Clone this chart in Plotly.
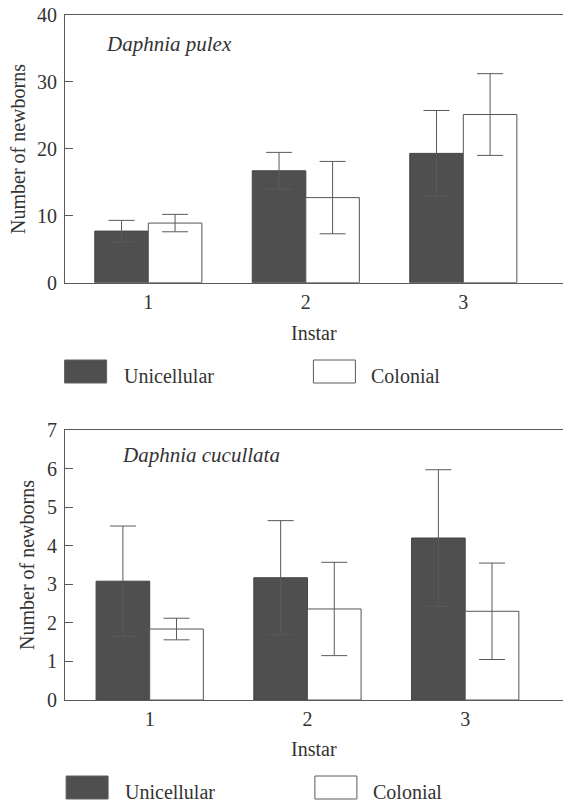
import plotly.graph_objects as go

instars = [1, 2, 3]
tick_labels = ["1", "2", "3"]

pulex_uni = [7.7, 16.7, 19.3]
pulex_uni_err = [1.6, 2.75, 6.4]
pulex_col = [8.9, 12.7, 25.1]
pulex_col_err = [1.3, 5.4, 6.1]

cuc_uni = [3.08, 3.17, 4.2]
cuc_uni_err = [1.43, 1.48, 1.77]
cuc_col = [1.84, 2.36, 2.30]
cuc_col_err = [0.28, 1.21, 1.25]

DARK = "#4f4f4f"
LINE = "#5a5a5a"
TXT = "#333333"
FONT = "Liberation Serif"

W, H = 563, 803

def px(x):
    return x / W

def py(y):
    return 1 - y / H

fig = go.Figure()

def add_pair(uni, uerr, col, cerr, xa, ya):
    fig.add_trace(go.Bar(
        x=instars, y=uni, name="Unicellular", xaxis=xa, yaxis=ya,
        marker=dict(color=DARK, line=dict(color="#444444", width=1)),
        error_y=dict(type="data", array=uerr, visible=True, color=LINE, thickness=1, width=13),
        showlegend=False,
    ))
    fig.add_trace(go.Bar(
        x=instars, y=col, name="Colonial", xaxis=xa, yaxis=ya,
        marker=dict(color="white", line=dict(color="#555555", width=1)),
        error_y=dict(type="data", array=cerr, visible=True, color=LINE, thickness=1, width=13),
        showlegend=False,
    ))

add_pair(pulex_uni, pulex_uni_err, pulex_col, pulex_col_err, "x", "y")
add_pair(cuc_uni, cuc_uni_err, cuc_col, cuc_col_err, "x2", "y2")

tfont = dict(family=FONT, size=20, color=TXT)

xcommon = dict(
    domain=[px(65), 1.0], tickvals=instars, ticktext=tick_labels,
    showline=True, linecolor=LINE, linewidth=1, mirror=True,
    ticks="outside", ticklen=1, tickcolor="rgba(0,0,0,0)",
    showgrid=False, zeroline=False, automargin=False, tickfont=tfont,
)
ycommon = dict(
    showline=True, linecolor=LINE, linewidth=1, ticks="inside", ticklen=8, tickcolor=LINE,
    showgrid=False, zeroline=False, automargin=False, tickfont=tfont, ticklabelstandoff=3,
)

fig.update_layout(
    width=W, height=H, margin=dict(l=0, r=0, t=0, b=0),
    paper_bgcolor="white", plot_bgcolor="white",
    barmode="group", bargap=0.32, bargroupgap=0,
    xaxis=dict(**xcommon, range=[0.471, 3.633], anchor="y"),
    yaxis=dict(**ycommon, domain=[py(282.7), py(14.7)], range=[0, 40], tickvals=[0, 10, 20, 30, 40], anchor="x"),
    xaxis2=dict(**xcommon, range=[0.463, 3.62], anchor="y2"),
    yaxis2=dict(**ycommon, domain=[py(700), py(430)], range=[0, 7], tickvals=list(range(8)), anchor="x2"),
)

def note(text, x, y, xanchor="left", size=20, angle=0):
    fig.add_annotation(xref="paper", yref="paper", x=px(x), y=py(y), text=text,
                       xanchor=xanchor, yanchor="middle", showarrow=False, textangle=angle,
                       font=dict(family=FONT, size=size, color=TXT))

# species labels
note("<i>Daphnia pulex</i>", 104, 44, size=21)
note("<i>Daphnia cucullata</i>", 120, 455, size=21)

# axis titles
note("Instar", 314, 333, xanchor="center")
note("Instar", 314, 749, xanchor="center")
note("Number of newborns", 18, 149, xanchor="center", angle=-90)
note("Number of newborns", 27, 565, xanchor="center", angle=-90)

# legends
for top, dx in ((360, 0), (776, 1.5)):
    fig.add_shape(type="rect", xref="paper", yref="paper",
                  x0=px(64.6 + dx), x1=px(106.6 + dx), y0=py(top + 23), y1=py(top),
                  fillcolor=DARK, line=dict(color="#606060", width=1))
    fig.add_shape(type="rect", xref="paper", yref="paper",
                  x0=px(313.4 + dx), x1=px(355.4 + dx), y0=py(top + 23), y1=py(top),
                  fillcolor="white", line=dict(color="#5a5a5a", width=1))
    note("Unicellular", 121.5 + dx, top + 16)
    note("Colonial", 369.4 + dx, top + 16)

# remove the page's default body margin so the figure fills the window exactly
fig.write_html("out.html", config={"displayModeBar": False},
               post_script="document.body.style.margin='0';")
